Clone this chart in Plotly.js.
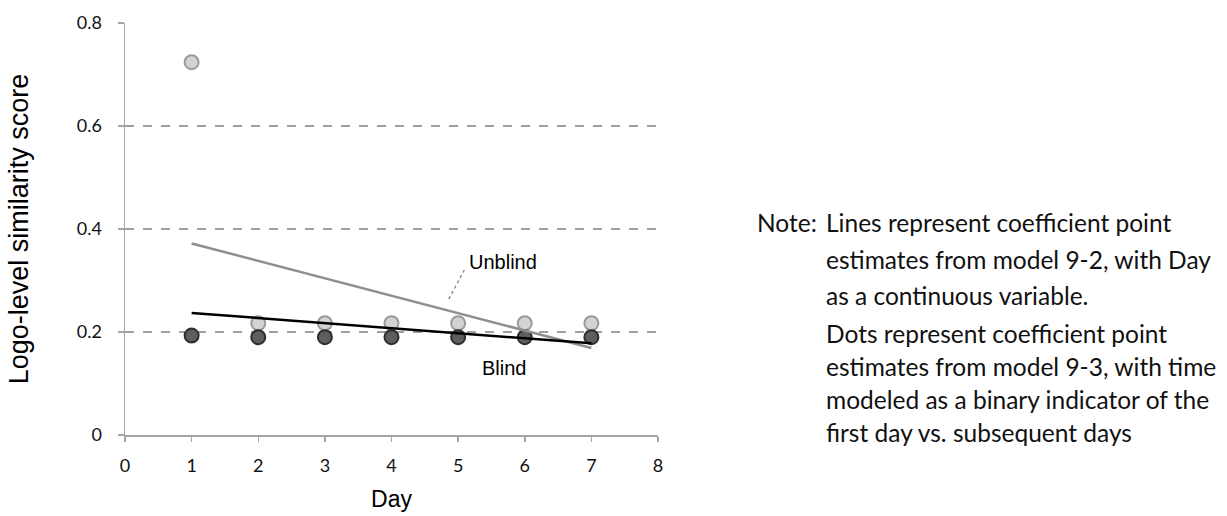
<!DOCTYPE html>
<html>
<head>
<meta charset="utf-8">
<script src="https://cdn.plot.ly/plotly-3.0.1.min.js"></script>
<style>html,body{margin:0;padding:0;background:#fff;}#chart{width:1227px;height:516px;}</style>
</head>
<body>
<div id="chart"></div>
<script>
// ---- data ----
const days = [1, 2, 3, 4, 5, 6, 7];
const unblindDots = [0.724, 0.217, 0.217, 0.217, 0.217, 0.217, 0.217];
const blindDots = [0.193, 0.190, 0.190, 0.190, 0.190, 0.190, 0.190];
const lineDays = [1, 7];
const unblindLine = [0.372, 0.169];
const blindLine = [0.237, 0.178];
const xTicks = [0, 1, 2, 3, 4, 5, 6, 7, 8];
const yTicks = [0, 0.2, 0.4, 0.6, 0.8];
const yTickText = ['0', '0.2', '0.4', '0.6', '0.8'];
const noteHead = 'Note:';
const noteLines1 = ['Lines represent coefficient point', 'estimates from model 9-2, with Day', 'as a continuous variable.'];
const noteLines2 = ['Dots represent coefficient point', 'estimates from model 9-3, with time', 'modeled as a binary indicator of the', 'first day vs. subsequent days'];

const W = 1227, H = 516;
const L = 125, R = 658, T = 22.7, B = 435;
const px = v => (v - L) / (R - L);
const py = v => (B - v) / (B - T);
const noteFont = {family: 'Lato, "Open Sans", sans-serif', size: 24.5, color: '#111'};
const sansFont = '"Liberation Sans", Arial, sans-serif';

const traces = [
  {x: days, y: unblindDots, mode: 'markers', type: 'scatter', name: 'Unblind dots',
   marker: {size: 14, color: '#d3d3d3', line: {color: '#9a9a9a', width: 2}}},
  {x: days, y: blindDots, mode: 'markers', type: 'scatter', name: 'Blind dots',
   marker: {size: 14, color: '#5e5e5e', line: {color: '#2e2e2e', width: 2}}},
  {x: lineDays, y: unblindLine, mode: 'lines', type: 'scatter', name: 'Unblind',
   line: {color: '#8f8f8f', width: 2.5}},
  {x: lineDays, y: blindLine, mode: 'lines', type: 'scatter', name: 'Blind',
   line: {color: '#000', width: 2.5}}
];

const annotations = [
  {xref: 'x', yref: 'y', x: 5.68, y: 0.336, text: 'Unblind', showarrow: false,
   font: {family: sansFont, size: 20, color: '#000'}},
  {xref: 'x', yref: 'y', x: 5.69, y: 0.130, text: 'Blind', showarrow: false,
   font: {family: sansFont, size: 20, color: '#000'}},
  {xref: 'paper', yref: 'paper', x: px(755), y: py(222), xanchor: 'left', yanchor: 'middle',
   text: noteHead, showarrow: false, font: noteFont}
];
const line1Y = [222, 259, 295];
noteLines1.forEach((t, i) => annotations.push({xref: 'paper', yref: 'paper', x: px(824), y: py(line1Y[i]),
  xanchor: 'left', yanchor: 'middle', text: t, showarrow: false, font: noteFont}));
const line2Y = [333, 366, 399, 432];
noteLines2.forEach((t, i) => annotations.push({xref: 'paper', yref: 'paper', x: px(824), y: py(line2Y[i]),
  xanchor: 'left', yanchor: 'middle', text: t, showarrow: false, font: noteFont}));

const layout = {
  width: W, height: H,
  margin: {l: L, r: W - R, t: T, b: H - B},
  paper_bgcolor: '#fff', plot_bgcolor: '#fff',
  showlegend: false,
  xaxis: {
    range: [0, 8], tickvals: xTicks, ticktext: xTicks.map(String),
    showgrid: false, zeroline: false, showline: true, linecolor: '#a6a6a6', linewidth: 1.5,
    ticks: 'outside', ticklen: 5, tickcolor: '#a6a6a6', tickwidth: 1.5, ticklabelstandoff: 9,
    tickfont: {family: 'Lato, "Open Sans", sans-serif', size: 18, color: '#111'},
    title: {text: 'Day', standoff: 16, font: {family: sansFont, size: 23, color: '#000'}}
  },
  yaxis: {
    range: [0, 0.8], tickvals: yTicks, ticktext: yTickText,
    showgrid: true, gridcolor: '#a0a0a0', griddash: 'dash', gridwidth: 1.2,
    zeroline: false, showline: true, linecolor: '#a6a6a6', linewidth: 1.5,
    ticks: 'outside', ticklen: 6, tickcolor: '#a6a6a6', tickwidth: 1.5, ticklabelstandoff: 12,
    tickfont: {family: 'Lato, "Open Sans", sans-serif', size: 18, color: '#111'},
    title: {text: 'Logo-level similarity score', standoff: 40, font: {family: sansFont, size: 27, color: '#000'}}
  },
  shapes: [
    {type: 'line', xref: 'x', yref: 'y', x0: 4.86, y0: 0.264, x1: 5.10, y1: 0.322,
     line: {color: '#777', width: 1.2, dash: 'dot'}}
  ],
  annotations: annotations
};

Plotly.newPlot('chart', traces, layout, {displayModeBar: false, staticPlot: true});
</script>
</body>
</html>
